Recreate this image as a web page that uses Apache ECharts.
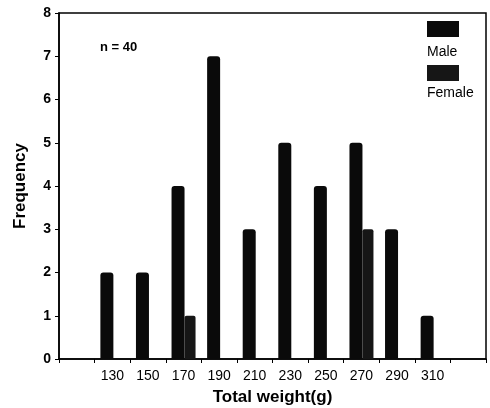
<!DOCTYPE html>
<html>
<head>
<meta charset="utf-8">
<script src="https://cdn.jsdelivr.net/npm/echarts@6/dist/echarts.min.js"></script>
<style>
  html, body { margin: 0; padding: 0; background: #fff; }
  #chart { width: 490px; height: 408px; }
</style>
</head>
<body>
<div id="chart"></div>
<script>
// weight classes (g); first and last slots are empty padding on the axis
const weights = ['', '130', '150', '170', '190', '210', '230', '250', '270', '290', '310', ''];
const maleFreq = ['-', 2, 2, 4, 7, 3, 5, 4, 5, 3, 1, '-'];
const femaleFreq = ['-', '-', '-', 1, '-', '-', '-', '-', 3, '-', '-', '-'];
const yTicks = [0, 1, 2, 3, 4, 5, 6, 7, 8];

const chart = echarts.init(document.getElementById('chart'));

const font = 'Liberation Sans, Arial, sans-serif';

const option = {
  animation: false,
  backgroundColor: '#fff',
  grid: {
    left: 59,
    right: 4,
    top: 13,
    bottom: 49,
    outerBoundsMode: 'none',
    show: true,
    borderColor: '#000',
    borderWidth: 1.5
  },
  title: {
    text: 'n = 40',
    left: 95,
    top: 36,
    textStyle: { fontFamily: font, fontSize: 13, fontWeight: 'bold', color: '#000' }
  },
  legend: {
    orient: 'vertical',
    right: 26,
    top: 16,
    itemWidth: 32,
    itemHeight: 16,
    itemGap: 28,
    icon: 'rect',
    formatter: () => '',
    data: ['Male', 'Female']
  },
  graphic: [
    { type: 'text', left: 427, top: 45, style: { text: 'Male', font: '14px ' + font, fill: '#000' } },
    { type: 'text', left: 427, top: 86, style: { text: 'Female', font: '14px ' + font, fill: '#000' } }
  ],
  xAxis: {
    type: 'category',
    data: weights,
    name: 'Total weight(g)',
    nameLocation: 'middle',
    nameGap: 30,
    nameTextStyle: { fontFamily: font, fontSize: 17, fontWeight: 'bold', color: '#000' },
    axisLine: { lineStyle: { color: '#000', width: 1.5 } },
    axisTick: {
      show: true,
      length: 4,
      lineStyle: { color: '#000', width: 1 }
    },
    axisLabel: { interval: 0, fontFamily: font, fontSize: 14, color: '#000', margin: 10 }
  },
  yAxis: {
    type: 'value',
    min: yTicks[0],
    max: yTicks[yTicks.length - 1],
    interval: 1,
    name: 'Frequency',
    nameLocation: 'middle',
    nameGap: 30,
    nameTextStyle: { fontFamily: font, fontSize: 17, fontWeight: 'bold', color: '#000' },
    splitLine: { show: false },
    axisLine: { show: true, lineStyle: { color: '#000', width: 1.5 } },
    axisTick: { show: true, length: 4, lineStyle: { color: '#000' } },
    axisLabel: { fontFamily: font, fontSize: 14, fontWeight: 'bold', color: '#000', margin: 8 }
  },
  series: [
    {
      name: 'Male',
      type: 'bar',
      data: maleFreq,
      barWidth: 13,
      barGap: '0%',
      itemStyle: { color: '#0a0a0a', borderRadius: [3, 3, 0, 0] }
    },
    {
      name: 'Female',
      type: 'bar',
      data: femaleFreq,
      barWidth: 11,
      itemStyle: { color: '#161616', borderRadius: [2, 2, 0, 0] }
    }
  ]
};

chart.setOption(option);
</script>
</body>
</html>
